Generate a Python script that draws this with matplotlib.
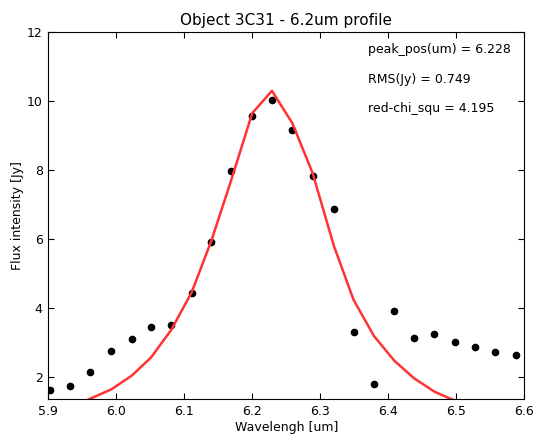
import matplotlib
matplotlib.use("Agg")
import matplotlib.pyplot as plt

# observed fluxes
wave = [5.903, 5.932, 5.962, 5.993, 6.023, 6.051, 6.081, 6.111, 6.140, 6.169,
        6.200, 6.229, 6.259, 6.289, 6.320, 6.349, 6.379, 6.409, 6.438, 6.468,
        6.498, 6.528, 6.557, 6.588]
flux = [1.61, 1.73, 2.12, 2.74, 3.10, 3.45, 3.49, 4.42, 5.90, 7.97,
        9.58, 10.03, 9.17, 7.82, 6.87, 3.30, 1.78, 3.89, 3.12, 3.25,
        2.99, 2.87, 2.70, 2.64]
# fitted profile
fit = [0.90, 1.10, 1.36, 1.63, 2.03, 2.55, 3.36, 4.45, 5.95, 7.70,
       9.65, 10.30, 9.36, 7.90, 5.80, 4.23, 3.18, 2.46, 1.95, 1.56,
       1.30, 1.10, 0.95, 0.80]

notes = ["peak_pos(um) = 6.228", "RMS(Jy) = 0.749", "red-chi_squ = 4.195"]

fig = plt.figure(figsize=(5.36, 4.34), dpi=100)
ax = fig.add_axes([0.090, 0.080, 0.888, 0.8456])

ax.plot(wave, flux, "o", color="black", markersize=4.5)
ax.plot(wave, fit, "-", color="#ff3333", lw=1.8)

ax.set_xlim(5.9, 6.6)
ax.set_ylim(1.34, 12)
ax.set_xticks([5.9, 6.0, 6.1, 6.2, 6.3, 6.4, 6.5, 6.6])
ax.set_yticks([2, 4, 6, 8, 10, 12])
ax.tick_params(direction="in", top=True, right=True, length=4, labelsize=9, pad=4)

ax.set_xlabel("Wavelengh [um]", fontsize=9, labelpad=2)
ax.set_ylabel("Flux intensity [Jy]", fontsize=9, labelpad=2)
ax.set_title("Object 3C31 - 6.2um profile", fontsize=11, pad=5)

for note, ypos in zip(notes, [0.952, 0.870, 0.793]):
    ax.text(0.672, ypos, note, transform=ax.transAxes, fontsize=9, va="center")

fig.savefig("out.png", dpi=100)
